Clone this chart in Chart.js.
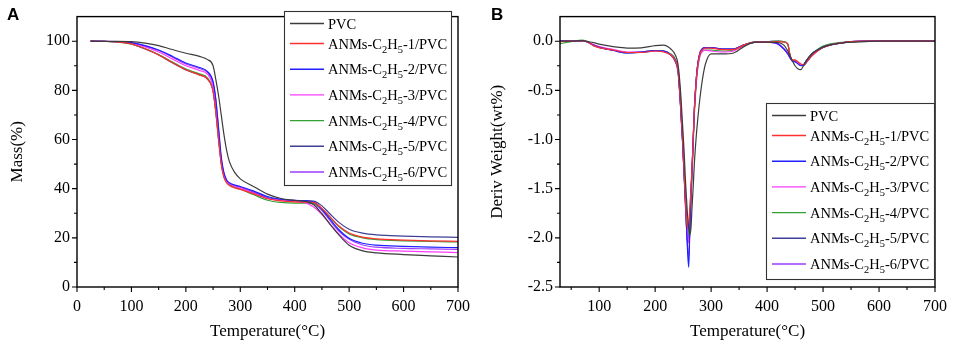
<!DOCTYPE html>
<html><head><meta charset="utf-8">
<script src="https://cdn.jsdelivr.net/npm/chart.js@4.4.1/dist/chart.umd.min.js"></script>
<style>
html,body{margin:0;padding:0;background:#fff;}
#wrap{position:relative;width:957px;height:343px;overflow:hidden;background:#fff;}
.panel{position:absolute;top:0;height:343px;}
#pa{left:0;width:480px;}
#pb{left:480px;width:477px;}
</style></head><body>
<div id="wrap">
<div class="panel" id="pa"><canvas id="ca" width="480" height="343"></canvas></div>
<div class="panel" id="pb"><canvas id="cb" width="477" height="343"></canvas></div>
</div>
<script>
// ---- series names & colours ----
const seriesNames = ['PVC','ANMs-C₂H₅-1/PVC','ANMs-C₂H₅-2/PVC','ANMs-C₂H₅-3/PVC','ANMs-C₂H₅-4/PVC','ANMs-C₂H₅-5/PVC','ANMs-C₂H₅-6/PVC'];
const seriesColors = ['#3c3c3c','#ff3030','#1f1fff','#ff3cff','#33a033','#3f3f96','#9b3cff'];

// ---- panel A: TGA (Mass %) ----
const tgaTemps = [25,50,75,100,125,150,175,200,225,240,250,255,260,265,270,275,280,290,300,325,350,375,400,420,435,450,465,480,500,525,550,600,650,700];
const tgaPVC = [100,99.9,99.9,99.8,99.2,98.2,96.6,95.1,93.8,92.5,90,84.5,78,70,62,55.5,51,46.5,44,40.8,37.8,36,35.3,34.8,33.5,29.8,25.5,21.5,17,14.7,13.9,13.2,12.7,12.2];
const tga1 = [100,99.9,99.7,98.9,96.9,94.4,91.3,88.4,86.3,84.6,79.5,71,60,50,44.5,42.3,41.3,40.3,39.7,37.9,35.9,35,34.6,34.5,34.3,32,28.5,25,22,20.3,19.6,19.1,18.8,18.6];
const tga2 = [100,99.9,99.8,99.4,98.2,96.4,93.9,91.1,89.3,87.6,83.5,76.5,65,53,46.5,43.5,42.4,41.5,40.9,39,36.8,35.7,35.2,35.1,34.6,31.6,27.6,23.6,19.8,17.8,17,16.5,16.2,16];
const tga3 = [100,99.9,99.8,99.2,97.7,95.6,92.8,90,88.1,86.5,81.5,74,62.5,51.5,45.5,43,42,41,40.3,38.2,36,35.3,34.8,34.2,32.5,29.5,25.6,21.8,18,15.9,15,14.6,14.3,14];
const tga4 = [100,99.9,99.6,98.8,97,94.6,91.6,88.7,86.7,85,80,71.5,60.5,50.5,45,42.6,41.6,40.5,39.8,37.5,35.3,34.4,34.1,34.1,33.9,31.7,28.3,24.8,21.6,20,19.3,18.8,18.5,18.3];
const tga5 = [100,99.9,99.7,98.9,96.8,94.4,91.2,88.3,86.3,84.5,79.8,71.5,60.5,50.5,45,42.7,41.8,40.9,40.3,38.3,36.3,35.5,35.1,35.1,34.9,33,29.7,26.5,23.5,21.9,21.2,20.7,20.4,20.2];
const tga6 = [100,99.9,99.8,99.4,98.1,96.2,93.6,90.7,88.9,87.2,83,76,64,52,46,43.2,42.1,41.1,40.5,38.6,36.4,35.4,35,34.8,34.1,31.1,27,23,19.4,17.1,16.2,15.7,15.5,15.3];
const tgaXTicks = [0,100,200,300,400,500,600,700];
const tgaYTicks = [0,20,40,60,80,100];

// ---- panel B: DTG (Deriv Weight wt%) ----
const dtgTemps = [30,50,70,80,90,100,125,150,175,200,215,228,236,241,245,249,252,254,256,258,260,262,264,266,268,270,273,276,280,285,290,300,320,340,360,380,400,420,430,437,441,445,450,455,460,465,470,480,490,500,515,530,550,575,600,650,700];
const dtgPVC = [0,0,0.005,-0.005,-0.015,-0.03,-0.055,-0.07,-0.068,-0.045,-0.04,-0.08,-0.14,-0.24,-0.48,-0.85,-1.15,-1.4,-1.6,-1.78,-1.9,-1.96,-1.9,-1.68,-1.48,-1.25,-1.0,-0.8,-0.58,-0.37,-0.23,-0.13,-0.13,-0.12,-0.05,-0.01,-0.01,-0.015,-0.04,-0.1,-0.15,-0.2,-0.25,-0.28,-0.29,-0.25,-0.2,-0.13,-0.09,-0.06,-0.035,-0.02,-0.01,-0.005,0,0,0];
const dtg1 = [-0.005,0,0.005,-0.01,-0.045,-0.065,-0.09,-0.115,-0.115,-0.1,-0.11,-0.14,-0.2,-0.3,-0.6,-1.0,-1.35,-1.6,-1.82,-1.9,-1.85,-1.7,-1.5,-1.27,-1.0,-0.7,-0.42,-0.25,-0.13,-0.085,-0.07,-0.07,-0.085,-0.085,-0.035,-0.01,-0.01,-0.005,-0.01,-0.03,-0.14,-0.19,-0.19,-0.21,-0.23,-0.24,-0.21,-0.15,-0.1,-0.065,-0.035,-0.02,-0.005,0,0,0,0];
const dtg2 = [0,0,0.005,-0.01,-0.04,-0.06,-0.095,-0.12,-0.11,-0.095,-0.1,-0.14,-0.2,-0.3,-0.62,-1.02,-1.38,-1.62,-1.87,-2.15,-2.3,-1.9,-1.55,-1.3,-1.0,-0.7,-0.42,-0.24,-0.12,-0.075,-0.065,-0.065,-0.08,-0.08,-0.035,-0.01,-0.01,-0.03,-0.08,-0.13,-0.17,-0.2,-0.21,-0.23,-0.25,-0.24,-0.2,-0.13,-0.09,-0.06,-0.035,-0.02,-0.005,0,0,0,0];
const dtg3 = [0,0,0.005,-0.01,-0.035,-0.055,-0.085,-0.11,-0.11,-0.1,-0.105,-0.14,-0.2,-0.3,-0.6,-1.0,-1.36,-1.6,-1.83,-1.98,-2.05,-1.85,-1.55,-1.3,-1.02,-0.72,-0.45,-0.27,-0.15,-0.1,-0.09,-0.1,-0.11,-0.1,-0.04,-0.01,-0.01,-0.03,-0.08,-0.13,-0.17,-0.2,-0.21,-0.22,-0.24,-0.24,-0.21,-0.14,-0.095,-0.06,-0.035,-0.02,-0.005,0,0,0,0];
const dtg4 = [-0.025,-0.005,0.01,-0.005,-0.04,-0.06,-0.09,-0.115,-0.11,-0.095,-0.1,-0.13,-0.18,-0.28,-0.55,-0.95,-1.3,-1.55,-1.75,-1.88,-1.95,-2.0,-1.65,-1.35,-1.05,-0.75,-0.46,-0.28,-0.15,-0.1,-0.09,-0.09,-0.1,-0.09,-0.035,-0.005,-0.005,0,-0.005,-0.03,-0.14,-0.2,-0.2,-0.22,-0.24,-0.24,-0.2,-0.13,-0.085,-0.05,-0.025,-0.015,-0.005,0,0,0,0];
const dtg5 = [0,0,0.005,-0.01,-0.045,-0.065,-0.09,-0.12,-0.115,-0.1,-0.1,-0.14,-0.21,-0.32,-0.63,-1.03,-1.4,-1.65,-1.9,-2.05,-1.95,-1.75,-1.52,-1.28,-1.0,-0.7,-0.42,-0.24,-0.12,-0.075,-0.065,-0.065,-0.08,-0.08,-0.035,-0.01,-0.005,0,-0.005,-0.03,-0.15,-0.2,-0.2,-0.22,-0.24,-0.25,-0.22,-0.15,-0.1,-0.065,-0.035,-0.02,-0.005,0,0,0,0];
const dtg6 = [0,0,0.005,-0.01,-0.04,-0.06,-0.09,-0.115,-0.11,-0.095,-0.1,-0.14,-0.2,-0.31,-0.62,-1.02,-1.38,-1.63,-1.88,-2.1,-2.2,-1.9,-1.55,-1.3,-1.0,-0.7,-0.42,-0.24,-0.12,-0.075,-0.065,-0.065,-0.08,-0.08,-0.035,-0.01,-0.01,-0.03,-0.075,-0.12,-0.16,-0.19,-0.2,-0.22,-0.24,-0.24,-0.2,-0.13,-0.09,-0.06,-0.035,-0.02,-0.005,0,0,0,0];
const dtgXTicks = [100,200,300,400,500,600,700];
const dtgYTicks = [-2.5,-2.0,-1.5,-1.0,-0.5,0.0];

const SERIF = "'Liberation Serif','Times New Roman',serif";

function buildDatasets(temps, seriesList){
  return seriesList.map((vals,i)=>({
    label: seriesNames[i],
    data: temps.map((t,j)=>({x:t,y:vals[j]})),
    borderColor: seriesColors[i],
    backgroundColor: seriesColors[i],
    borderWidth: 1.2,
    pointRadius: 0,
    fill: false,
    cubicInterpolationMode: 'monotone'
  }));
}

// frame + major/minor tick marks, positions from scales
const framePlugin = {
  id: 'frame',
  afterDatasetsDraw(chart, args, opts){
    const {ctx, chartArea:a} = chart;
    const xs = chart.scales.x, ys = chart.scales.y;
    ctx.save();
    ctx.strokeStyle = '#000';
    ctx.lineWidth = 1.4;
    ctx.strokeRect(a.left, a.top, a.right-a.left, a.bottom-a.top);
    ctx.lineWidth = 1.1;
    ctx.beginPath();
    opts.xMajor.forEach(v=>{const p=xs.getPixelForValue(v); ctx.moveTo(p,a.bottom); ctx.lineTo(p,a.bottom+5);});
    opts.xMinor.forEach(v=>{const p=xs.getPixelForValue(v); ctx.moveTo(p,a.bottom); ctx.lineTo(p,a.bottom+3);});
    opts.yMajor.forEach(v=>{const p=ys.getPixelForValue(v); ctx.moveTo(a.left,p); ctx.lineTo(a.left-5,p);});
    opts.yMinor.forEach(v=>{const p=ys.getPixelForValue(v); ctx.moveTo(a.left,p); ctx.lineTo(a.left-3,p);});
    ctx.stroke();
    // panel letter
    ctx.fillStyle = '#000';
    ctx.font = "bold 17px 'Liberation Sans', Arial, sans-serif";
    ctx.textBaseline = 'alphabetic';
    ctx.textAlign = 'left';
    ctx.fillText(opts.letter, opts.letterX, 20);
    ctx.restore();
  }
};

// boxed legend inside plot with proper subscripts
const subMap = {'₀':'0','₁':'1','₂':'2','₃':'3','₄':'4','₅':'5','₆':'6','₇':'7','₈':'8','₉':'9'};
const boxLegendPlugin = {
  id: 'boxLegend',
  afterDraw(chart, args, o){
    const ctx = chart.ctx;
    ctx.save();
    ctx.fillStyle = '#fff';
    ctx.fillRect(o.left, o.top, o.width, o.height);
    ctx.strokeStyle = '#333';
    ctx.lineWidth = 1.1;
    ctx.strokeRect(o.left+0.5, o.top+0.5, o.width, o.height);
    const fs = 14.5;
    chart.data.datasets.forEach((ds,i)=>{
      const y = o.top + 12.5 + (i>0 ? 20 + (i-1)*25.7 : 0);
      ctx.strokeStyle = ds.borderColor;
      ctx.lineWidth = 1.4;
      ctx.beginPath(); ctx.moveTo(o.left+6, y); ctx.lineTo(o.left+40, y); ctx.stroke();
      let x = o.left + 44;
      ctx.fillStyle = '#000';
      ctx.textBaseline = 'alphabetic';
      ctx.textAlign = 'left';
      for (const ch of ds.label){
        if (subMap[ch]){
          ctx.font = (fs*0.72)+'px '+SERIF;
          ctx.fillText(subMap[ch], x, y+5+4);
          x += ctx.measureText(subMap[ch]).width;
        } else {
          ctx.font = fs+'px '+SERIF;
          ctx.fillText(ch, x, y+5);
          x += ctx.measureText(ch).width;
        }
      }
    });
    ctx.restore();
  }
};

function makeChart(canvasId, temps, seriesList, cfg){
  const tickFont = {family: SERIF, size: 16};
  const titleFont = {family: SERIF, size: 17};
  return new Chart(document.getElementById(canvasId), {
    type: 'line',
    data: {datasets: buildDatasets(temps, seriesList)},
    options: {
      responsive: false,
      animation: false,
      devicePixelRatio: 1,
      layout: {padding: {left: 0, top: 3, right: cfg.padRight, bottom: 0}},
      plugins: {
        legend: {display: false},
        tooltip: {enabled: false},
        frame: cfg.frame,
        boxLegend: cfg.legendBox
      },
      scales: {
        x: {
          type: 'linear', min: cfg.xMin, max: cfg.xMax,
          afterBuildTicks: s => { s.ticks = cfg.xTicks.map(v=>({value:v})); },
          afterFit: s => { s.height = 56; },
          grid: {display: false, drawTicks: false},
          border: {display: false},
          ticks: {font: tickFont, color: '#000', padding: 10, maxRotation: 0, autoSkip: false, callback: v => String(v)},
          title: {display: true, text: 'Temperature(°C)', font: titleFont, color: '#000', padding: {top: 0, bottom: 1}}
        },
        y: {
          type: 'linear', min: cfg.yMin, max: cfg.yMax,
          afterBuildTicks: s => { s.ticks = cfg.yTicks.map(v=>({value:v})); },
          afterFit: s => { s.width = cfg.yWidth; },
          grid: {display: false, drawTicks: false},
          border: {display: false},
          ticks: {font: tickFont, color: '#000', padding: 7, autoSkip: false, callback: cfg.yFmt},
          title: {display: true, text: cfg.yTitle, font: titleFont, color: '#000', padding: {top: cfg.yTitlePad, bottom: 0}}
        }
      }
    },
    plugins: [framePlugin, boxLegendPlugin]
  });
}

makeChart('ca', tgaTemps, [tgaPVC,tga1,tga2,tga3,tga4,tga5,tga6], {
  xMin: 0, xMax: 700, yMin: 0, yMax: 110,
  xTicks: tgaXTicks, yTicks: tgaYTicks,
  yFmt: v => String(v), yTitle: 'Mass(%)', yWidth: 77, yTitlePad: 7, padRight: 21,
  frame: {letter: 'A', letterX: 7,
    xMajor: tgaXTicks, xMinor: [50,150,250,350,450,550,650],
    yMajor: tgaYTicks, yMinor: [10,30,50,70,90]},
  legendBox: {left: 284, top: 11, width: 167, height: 174}
});

makeChart('cb', dtgTemps, [dtgPVC,dtg1,dtg2,dtg3,dtg4,dtg5,dtg6], {
  xMin: 30, xMax: 700, yMin: -2.5, yMax: 0.25,
  xTicks: dtgXTicks, yTicks: dtgYTicks,
  yFmt: v => Number(v).toFixed(1), yTitle: 'Deriv Weight(wt%)', yWidth: 80, yTitlePad: 7, padRight: 14,
  frame: {letter: 'B', letterX: 11,
    xMajor: dtgXTicks, xMinor: [50,150,250,350,450,550,650],
    yMajor: dtgYTicks, yMinor: [-2.25,-1.75,-1.25,-0.75,-0.25]},
  legendBox: {left: 286, top: 103, width: 168, height: 176}
});
</script>
</body></html>
